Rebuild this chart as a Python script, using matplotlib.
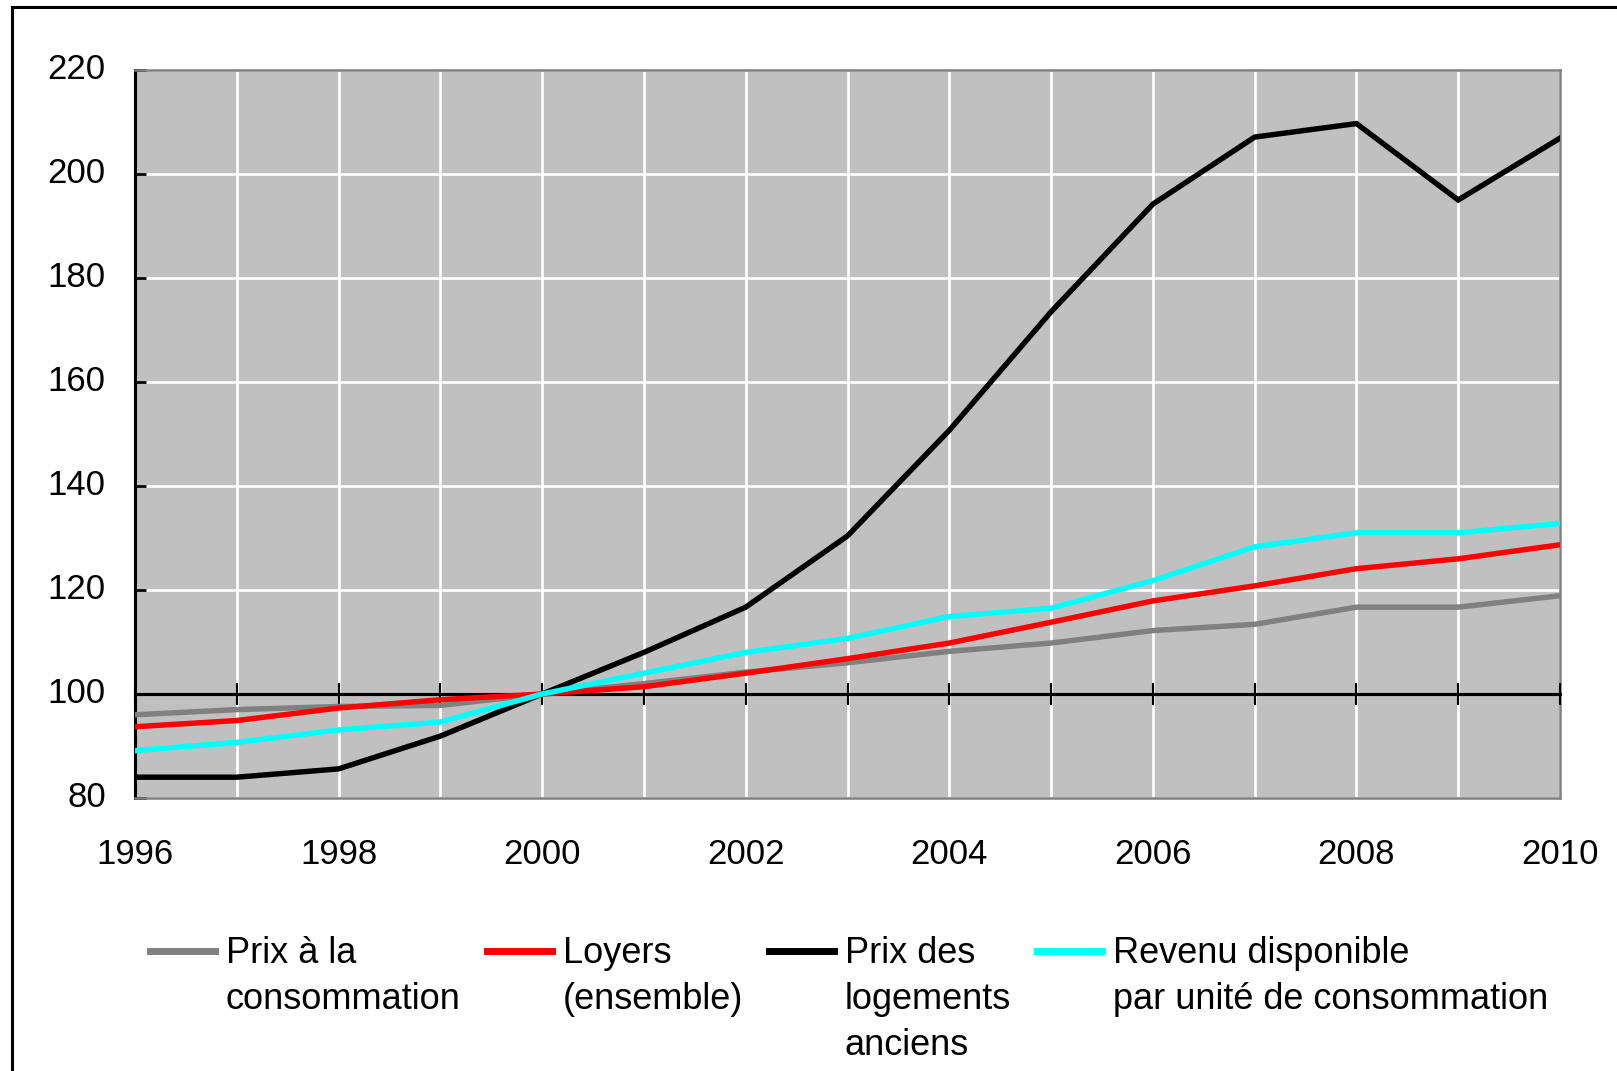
import numpy as np
import matplotlib
matplotlib.use('Agg')
from matplotlib import pyplot as plt
from matplotlib.patches import Rectangle
from matplotlib.transforms import ScaledTranslation

plt.rcParams['font.family'] = ['Liberation Sans', 'DejaVu Sans']

years = list(range(1996, 2011))

# indices, base 100 en 2000
prix_conso = [96.0, 97.0, 97.6, 97.8, 100.0, 102.0, 104.2, 106.0, 108.2, 109.8,
              112.2, 113.4, 116.7, 116.7, 118.9]
loyers = [93.7, 94.9, 97.3, 98.9, 100.0, 101.4, 104.0, 106.8, 109.8, 113.8,
          117.9, 120.8, 124.1, 126.0, 128.7]
prix_logements = [84.0, 84.0, 85.6, 91.9, 100.0, 108.0, 116.7, 130.4, 150.7, 173.5,
                  194.2, 207.1, 209.7, 195.0, 206.9]
revenu_uc = [89.1, 90.7, 93.1, 94.6, 100.0, 104.0, 108.0, 110.7, 114.9, 116.5,
             121.8, 128.3, 131.0, 131.0, 132.8]

series_labels = ['Prix à la\nconsommation', 'Loyers\n(ensemble)',
                 'Prix des\nlogements\nanciens',
                 'Revenu disponible\npar unité de consommation']
series_colors = ['#808080', '#FF0000', '#000000', '#00FFFF']

yticks = list(range(80, 221, 20))
xlabels = [str(y) if y % 2 == 0 else '' for y in years]

W, H = 1617, 1071
fig = plt.figure(figsize=(W / 100, H / 100), dpi=100)
ax = fig.add_axes([135 / W, 1 - 798 / H, (1560 - 135) / W, (798 - 70) / H])
ax.set_facecolor('#C0C0C0')

for vals, lab, col in zip([prix_conso, loyers, prix_logements, revenu_uc],
                          series_labels, series_colors):
    ax.plot(years, vals, color=col, lw=3.9, label=lab, solid_joinstyle='miter', zorder=3)

ax.set_xlim(1996, 2010)
ax.set_ylim(80, 220)
ax.set_xticks(years)
ax.set_xticklabels(xlabels)
ax.set_yticks(yticks)
ax.grid(True, color='white', lw=1.9, zorder=1)
ax.set_axisbelow(True)

ax.tick_params(axis='x', length=0, pad=28.5, labelsize=25)
ax.tick_params(axis='y', direction='in', length=8, width=2, color='black',
               pad=21, labelsize=25)
# libelles de l'axe y un peu au-dessus des graduations
shift = ScaledTranslation(0, 3 / 72, fig.dpi_scale_trans)
for lab in ax.get_yticklabels():
    lab.set_transform(lab.get_transform() + shift)

for s in ['top', 'right', 'bottom']:
    ax.spines[s].set_color('#808080')
    ax.spines[s].set_linewidth(1.8)
ax.spines['left'].set_color('black')
ax.spines['left'].set_linewidth(2.2)

# axe horizontal a 100 avec graduations annuelles
ax.axhline(100, color='black', lw=2.2, zorder=2)
sec = ax.secondary_xaxis((100 - 80) / (220 - 80))
sec.set_zorder(2.5)
sec.set_xticks(years)
sec.set_xticklabels([''] * len(years))
sec.tick_params(direction='inout', length=16.5, width=1.5, color='black')
sec.spines['bottom'].set_color('black')
sec.spines['bottom'].set_linewidth(2.2)

leg = fig.legend(loc='upper left', bbox_to_anchor=(150 / W, 1 - 936 / H),
                 ncol=4, frameon=False, fontsize=26, handlelength=1.8,
                 handleheight=1.1, handletextpad=0.3, columnspacing=0.72,
                 borderpad=0, borderaxespad=0)
for t in leg.get_texts():
    t.set_linespacing(1.4)
for line in leg.get_lines():
    line.set_linewidth(5)
# poignees et colonnes alignees sur la premiere ligne du libelle
leg._legend_handle_box.align = 'top'
for column in leg._legend_handle_box.get_children():
    column.align = 'left'
    for row in column.get_children():
        row.align = 'top'

# cadre du graphique
fig.add_artist(Rectangle((12 / W, -0.1), 1.2, 1.1 - 7 / H, transform=fig.transFigure,
                         fill=False, edgecolor='black', lw=2.2, clip_on=False))

fig.savefig('out.png', dpi=100)
